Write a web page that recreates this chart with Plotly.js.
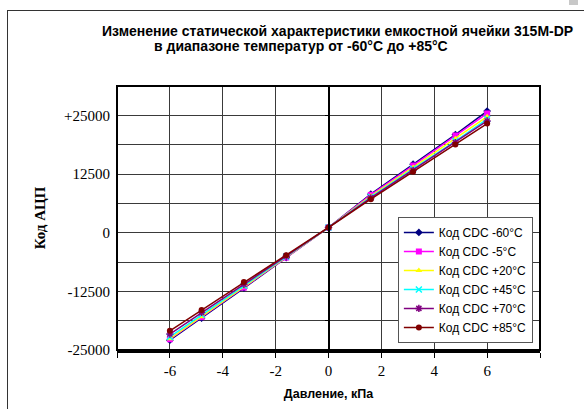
<!DOCTYPE html>
<html>
<head>
<meta charset="utf-8">
<script src="https://cdn.plot.ly/plotly-3.0.1.min.js"></script>
<style>
html,body{margin:0;padding:0;background:#fff;}
#wrap{position:relative;width:584px;height:409px;overflow:hidden;}
#chart{position:absolute;left:0;top:0;width:584px;height:409px;}
#frame{position:absolute;left:7px;top:10px;width:600px;height:420px;border-left:1px solid #333;border-top:1px solid #333;pointer-events:none;}
#plotframe{position:absolute;left:116px;top:85px;width:425px;height:266px;box-sizing:border-box;border:2px solid #000;pointer-events:none;}
#corner{position:absolute;left:569px;top:0px;width:9px;height:5px;background:#c8c8c8;}
</style>
</head>
<body>
<div id="wrap">
<div id="chart"></div>
<div id="frame"></div>
<div id="plotframe"></div>
<div id="corner"></div>
</div>
<script>
// Pressure, kPa
const pressure = [-6, -4.8, -3.2, -1.6, 0, 1.6, 3.2, 4.8, 6];
// ADC codes per temperature
const codeM60 = [-22900, -18200, -11800, -5300, 1100, 8200, 14600, 20900, 25900];
const codeM5  = [-22700, -18000, -11700, -5300, 1100, 8050, 14300, 20700, 25400];
const codeP20 = [-22600, -17900, -11500, -5200, 1100, 7800, 13900, 20000, 24700];
const codeP45 = [-22200, -17500, -11300, -5100, 1100, 7600, 13600, 19500, 24200];
const codeP70 = [-21600, -17000, -11000, -5000, 1100, 7400, 13300, 19200, 23800];
const codeP85 = [-20900, -16500, -10500, -4800, 1100, 7140, 13000, 18800, 23250];

const seriesNames = ['Код CDC -60°C', 'Код CDC -5°C', 'Код CDC +20°C', 'Код CDC +45°C', 'Код CDC +70°C', 'Код CDC +85°C'];
const seriesData = [codeM60, codeM5, codeP20, codeP45, codeP70, codeP85];
const seriesColors = ['#000080', '#FF00FF', '#FFFF00', '#00FFFF', '#800080', '#800000'];
const seriesSymbols = ['diamond', 'square', 'triangle-up', 'x-thin-open', 'asterisk-open', 'circle'];

const xTickVals = [-8, -6, -4, -2, 0, 2, 4, 6, 8];
const xTickText = ['', '-6', '-4', '-2', '0', '2', '4', '6', ''];
const yTickVals = [-25000, -12500, 0, 12500, 25000];
const yTickText = ['-25000', '-12500', '0', '12500', '+25000'];

const traces = seriesData.map((d, i) => ({
  type: 'scatter',
  mode: 'lines+markers',
  x: pressure,
  y: d,
  name: seriesNames[i],
  line: {color: seriesColors[i], width: 1.5},
  marker: {color: seriesColors[i], symbol: seriesSymbols[i], size: 6,
           line: {color: seriesColors[i], width: (seriesSymbols[i].indexOf('open') >= 0) ? 1.5 : 0}}
}));

const gridColor = '#3a3a3a';

const layout = {
  width: 584, height: 409,
  margin: {l: 117, r: 44, t: 86, b: 59},
  paper_bgcolor: '#fff',
  plot_bgcolor: '#fff',
  showlegend: true,
  legend: {
    x: 0.664, y: 0.504, xanchor: 'left', yanchor: 'top',
    bgcolor: '#fff', bordercolor: '#555', borderwidth: 1,
    font: {family: 'Liberation Sans, Arial, sans-serif', size: 12, color: '#000'},
    tracegroupgap: 0, itemwidth: 30
  },
  xaxis: {
    range: [-8, 8],
    tickmode: 'array', tickvals: xTickVals, ticktext: xTickText,
    ticks: 'outside', ticklen: 5, tickwidth: 1, tickcolor: '#000',
    showgrid: true, gridcolor: gridColor, gridwidth: 1,
    zeroline: false,
    showline: true, linecolor: '#000', linewidth: 3, mirror: false,
    tickfont: {family: 'Liberation Serif, Times New Roman, serif', size: 15, color: '#000'},
    title: {text: '<b>Давление, кПа</b>', standoff: 12,
            font: {family: 'Liberation Sans, Arial, sans-serif', size: 12.5, color: '#000'}}
  },
  yaxis: {
    range: [-25000, 31250],
    tickmode: 'array', tickvals: yTickVals, ticktext: yTickText,
    ticks: '', 
    showgrid: false,
    zeroline: false,
    showline: false,
    tickfont: {family: 'Liberation Serif, Times New Roman, serif', size: 15, color: '#000'},
    ticklabelstandoff: 6,
    title: {text: '<b>Код АЦП</b>', standoff: 14,
            font: {family: 'Liberation Serif, Times New Roman, serif', size: 15, color: '#000'}}
  },
  yaxis2: {
    overlaying: 'y', anchor: 'free', position: 0.5, side: 'left',
    range: [-25000, 31250],
    dtick: 6250, tick0: 0,
    ticks: 'outside', ticklen: 3, tickwidth: 1, tickcolor: '#000',
    showticklabels: false,
    showgrid: true, gridcolor: gridColor, gridwidth: 1,
    zeroline: false,
    showline: true, linecolor: '#000', linewidth: 2
  },
  annotations: [
    {text: '<b>Изменение статической характеристики емкостной ячейки 315M-DP</b>',
     xref: 'paper', yref: 'paper', x: -0.0402, y: 1.208, xanchor: 'left', yanchor: 'middle',
     showarrow: false, font: {family: 'Liberation Sans, Arial, sans-serif', size: 14, color: '#000'}},
    {text: '<b>в диапазоне температур от -60°C до +85°C</b>',
     xref: 'paper', yref: 'paper', x: 0.0827, y: 1.1515, xanchor: 'left', yanchor: 'middle',
     showarrow: false, font: {family: 'Liberation Sans, Arial, sans-serif', size: 14, color: '#000'}}
  ]
};

// dummy trace to activate yaxis2 (grid + zero axis with ticks)
traces.unshift({type: 'scatter', x: [0], y: [0], yaxis: 'y2', mode: 'markers',
  marker: {opacity: 0}, showlegend: false, hoverinfo: 'skip'});

Plotly.newPlot('chart', traces, layout, {displayModeBar: false, staticPlot: true});
</script>
</body>
</html>
